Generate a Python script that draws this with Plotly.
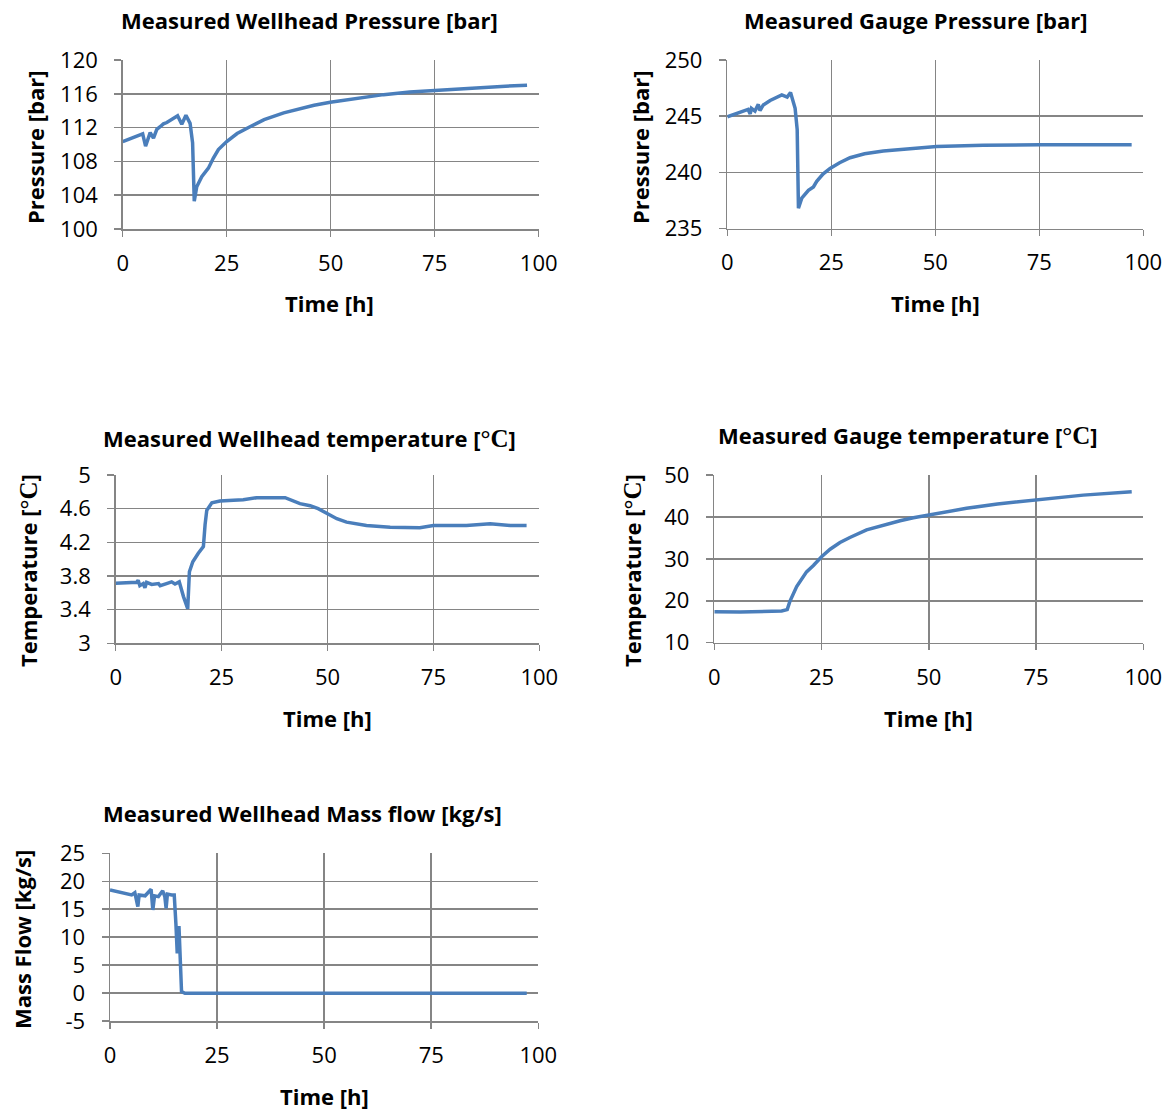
import plotly.graph_objects as go

# ---------------- data ----------------
t_whp = [0, 4.8, 5.5, 6.6, 7.4, 8.2, 9.0, 9.8, 10.6, 12.0, 13.2, 14.2, 15.2, 16.2, 16.8, 17.2, 17.8, 19.0, 20.6,
         21.8, 23.0, 25.0, 27.5, 30.6, 34.0, 38.7, 42.7, 46.0, 49.9, 56.0, 62.7, 69.0, 75.1, 81.0, 86.8, 92.0, 97.2]
p_whp = [110.35, 111.26, 109.8, 111.4, 110.75, 111.8, 112.1, 112.44, 112.6, 113.0, 113.4, 112.4, 113.46, 112.5,
         110.2, 103.3, 105.0, 106.2, 107.2, 108.4, 109.4, 110.35, 111.3, 112.1, 112.95, 113.75, 114.25, 114.65, 115.0,
         115.45, 115.9, 116.2, 116.4, 116.6, 116.8, 116.9, 117.0]

t_gp = [0, 5.0, 5.5, 5.8, 6.65, 7.45, 7.85, 8.65, 10.3, 13.1, 14.4, 15.2, 16.3, 16.8, 17.1, 17.9, 19.5, 20.7, 21.5,
        23.0, 24.7, 27.0, 29.5, 33.0, 37.5, 43.0, 50.3, 61.5, 75.2, 97.2]
p_gp = [244.95, 245.6, 245.2, 245.7, 245.45, 246.05, 245.5, 246.0, 246.4, 246.9, 246.7, 247.1, 245.7, 243.8, 236.8,
        237.7, 238.4, 238.7, 239.2, 239.85, 240.35, 240.85, 241.3, 241.65, 241.9, 242.1, 242.3, 242.4, 242.45, 242.45]

t_wht = [0, 4.96, 5.3, 5.7, 6.5, 6.9, 7.3, 8.5, 10.1, 10.5, 12.0, 13.2, 14.0, 15.0, 16.0, 17.0, 17.4, 18.2, 19.5,
         20.7, 21.1, 21.5, 22.7, 24.6, 27.8, 30.1, 33.3, 37.2, 40.0, 43.5, 45.9, 47.8, 49.8, 52.2, 54.5, 59.2, 64.8,
         70.3, 71.8, 75.0, 78.9, 82.8, 88.4, 90.7, 93.1, 97.0]
v_wht = [3.713, 3.725, 3.75, 3.685, 3.71, 3.66, 3.725, 3.70, 3.71, 3.685, 3.71, 3.73, 3.705, 3.73, 3.555, 3.41,
         3.85, 3.97, 4.07, 4.15, 4.41, 4.58, 4.67, 4.69, 4.70, 4.707, 4.73, 4.735, 4.73, 4.66, 4.635, 4.60, 4.545,
         4.48, 4.44, 4.40, 4.38, 4.37, 4.374, 4.40, 4.40, 4.40, 4.42, 4.41, 4.40, 4.40]

t_gt = [0, 6.0, 15.7, 17.0, 17.6, 19.2, 21.5, 23.1, 25.0, 27.0, 29.3, 31.6, 35.5, 39.4, 43.3, 46.4, 50.3, 58.8,
        66.0, 74.7, 86.0, 97.3]
v_gt = [17.4, 17.3, 17.55, 17.9, 19.8, 23.4, 26.9, 28.4, 30.5, 32.3, 33.9, 35.1, 36.9, 38.1, 39.1, 39.8, 40.5, 42.05,
        43.1, 44.0, 45.2, 46.0]

t_mf = [0, 5.06, 5.8, 6.5, 6.8, 8.2, 9.6, 10.0, 10.4, 11.3, 12.3, 12.8, 13.1, 13.4, 14.4, 15.0, 15.4, 15.7, 16.1,
        16.4, 16.7, 17.5, 40.0, 60.0, 80.0, 97.3]
v_mf = [18.44, 17.55, 17.96, 15.46, 17.55, 17.4, 18.56, 14.86, 17.4, 17.25, 18.3, 17.25, 15.16, 17.7, 17.55, 17.55,
        12.2, 7.1, 12.0, 4.7, 0.25, -0.05, -0.05, -0.05, -0.05, -0.05]

x_ticks = [0, 25, 50, 75, 100]
x_ticktext = ["0", "25", "50", "75", "100"]
y1_ticks = [100, 104, 108, 112, 116, 120]
y1_text = ["100", "104", "108", "112", "116", "120"]
y2_ticks = [235, 240, 245, 250]
y2_text = ["235", "240", "245", "250"]
y3_ticks = [3, 3.4, 3.8, 4.2, 4.6, 5]
y3_text = ["3", "3.4", "3.8", "4.2", "4.6", "5"]
y4_ticks = [10, 20, 30, 40, 50]
y4_text = ["10", "20", "30", "40", "50"]
y5_ticks = [-5, 0, 5, 10, 15, 20, 25]
y5_text = ["-5", "0", "5", "10", "15", "20", "25"]

# ---------------- layout geometry (pixels) ----------------
W, H = 1169, 1110
FONT = "Open Sans"
LINE = "#4A7EBB"
GRID = "#858585"
DEG = "<span style='font-family:Liberation Serif;font-size:25px'>°C</span>"

panels = [
    # (x0, x1, ytop, ybottom, t, v, yrange, yticks, ytext, title, title_xy, ytitle, ytitle_xy, time_xy)
    (122.7, 538.7, 60, 229, t_whp, p_whp, [100, 120], y1_ticks, y1_text,
     "Measured Wellhead Pressure [bar]", (310, 20), "Pressure [bar]", (35, 147), (330, 303)),
    (727.3, 1143.3, 60, 228.5, t_gp, p_gp, [235, 250], y2_ticks, y2_text,
     "Measured Gauge Pressure [bar]", (915, 20), "Pressure [bar]", (640, 147), (935, 303)),
    (115.7, 539.3, 475, 643.3, t_wht, v_wht, [3, 5], y3_ticks, y3_text,
     "Measured Wellhead temperature [" + DEG + "]", (310, 438), "Temperature [" + DEG + "]", (28, 571), (327, 718)),
    (714.3, 1143.3, 475, 642.7, t_gt, v_gt, [10, 50], y4_ticks, y4_text,
     "Measured Gauge temperature [" + DEG + "]", (908, 435), "Temperature [" + DEG + "]", (632, 571), (928, 718)),
    (110.0, 538.3, 853.3, 1021, t_mf, v_mf, [-5, 25], y5_ticks, y5_text,
     "Measured Wellhead Mass flow [kg/s]", (302, 813), "Mass Flow [kg/s]", (22, 940), (324, 1096)),
]

fig = go.Figure()
annotations = []
layout = dict(
    width=W, height=H,
    margin=dict(l=0, r=0, t=0, b=0),
    paper_bgcolor="white", plot_bgcolor="white",
    showlegend=False,
    font=dict(family=FONT, color="black"),
)

for i, (x0, x1, yt, yb, t, v, yr, yticks, ytext, title, txy, ytitle, yxy, timexy) in enumerate(panels, start=1):
    sfx = "" if i == 1 else str(i)
    fig.add_trace(go.Scatter(x=t, y=v, mode="lines", line=dict(color=LINE, width=3.5),
                             xaxis="x" + sfx, yaxis="y" + sfx, hoverinfo="skip"))
    layout["xaxis" + sfx] = dict(
        domain=[x0 / W, x1 / W], anchor="y" + sfx, range=[0, 100],
        tickvals=x_ticks, ticktext=x_ticktext,
        showgrid=True, gridcolor=GRID, gridwidth=1.5,
        showline=True, linecolor=GRID, linewidth=1.5,
        ticks="outside", ticklen=6, tickcolor=GRID, tickwidth=1.5,
        tickfont=dict(size=22, family=FONT, color="black"),
        ticklabelstandoff=8,
        zeroline=False, automargin=False, fixedrange=True,
    )
    layout["yaxis" + sfx] = dict(
        domain=[1 - yb / H, 1 - yt / H], anchor="x" + sfx, range=yr,
        tickvals=yticks, ticktext=ytext,
        showgrid=True, gridcolor=GRID, gridwidth=1.5,
        showline=True, linecolor=GRID, linewidth=1.5,
        ticks="outside", ticklen=7, tickcolor=GRID, tickwidth=1.5,
        tickfont=dict(size=22, family=FONT, color="black"),
        ticklabelstandoff=12,
        zeroline=False, automargin=False, fixedrange=True,
    )
    annotations.append(dict(text="<b>" + title + "</b>", x=txy[0] / W, y=1 - txy[1] / H,
                            xref="paper", yref="paper", showarrow=False, xanchor="center", yanchor="middle",
                            font=dict(size=22, family=FONT, color="black")))
    annotations.append(dict(text="<b>" + ytitle + "</b>", x=yxy[0] / W, y=1 - yxy[1] / H,
                            xref="paper", yref="paper", showarrow=False, xanchor="center", yanchor="middle",
                            textangle=-90, font=dict(size=22, family=FONT, color="black")))
    annotations.append(dict(text="<b>Time [h]</b>", x=timexy[0] / W, y=1 - timexy[1] / H,
                            xref="paper", yref="paper", showarrow=False, xanchor="center", yanchor="middle",
                            font=dict(size=22, family=FONT, color="black")))

layout["annotations"] = annotations
fig.update_layout(**layout)
fig.write_html("out.html", config={"displayModeBar": False, "staticPlot": True},
               post_script="document.body.style.margin='0';document.body.style.overflow='hidden';")
